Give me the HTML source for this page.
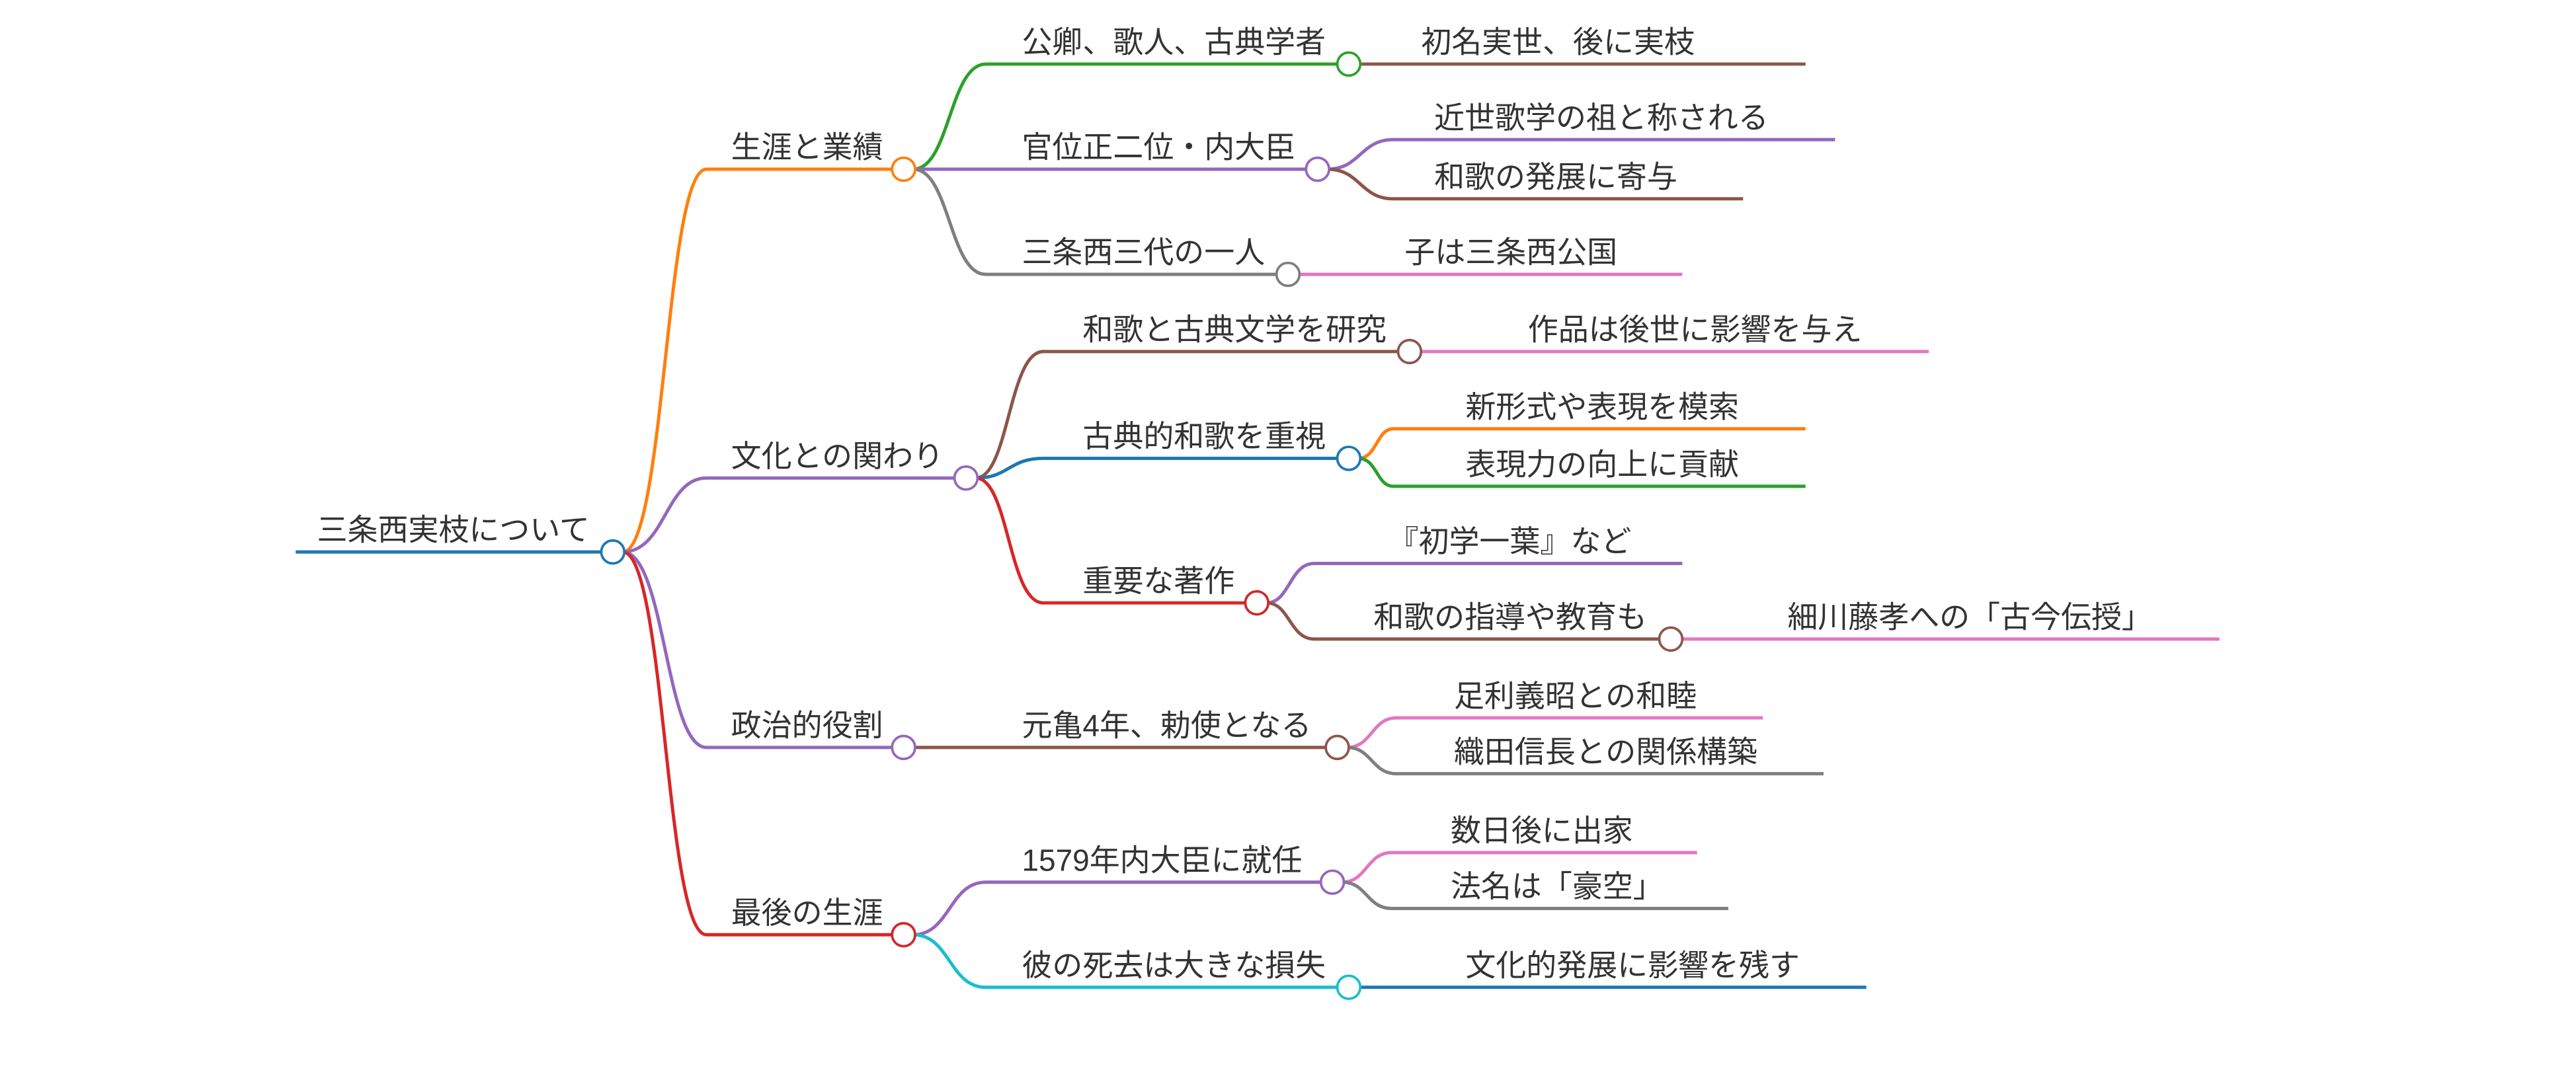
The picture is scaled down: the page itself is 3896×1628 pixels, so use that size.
<!DOCTYPE html>
<html><head><meta charset="utf-8"><style>
html,body{margin:0;padding:0;background:#fff;width:3896px;height:1628px;overflow:hidden}
svg{display:block}
text{font-family:"Liberation Sans","Noto Sans CJK JP",sans-serif;font-size:18.5px;fill:#333}
path{fill:none;stroke-width:2}
circle{fill:#fff;stroke-width:1.5}
</style></head><body>
<svg width="3896" height="1628" viewBox="0 0 1568 655" preserveAspectRatio="none">
<path d="M180 336 H366" stroke="#1f77b4"/>
<path d="M379 336 C405 336 405 103 430 103 H543" stroke="#ff7f0e"/>
<path d="M379 336 C405 336 405 291 430 291 H581" stroke="#9467bd"/>
<path d="M379 336 C405 336 405 455 430 455 H543" stroke="#9467bd"/>
<path d="M379 336 C405 336 405 569 430 569 H543" stroke="#d62728"/>

<path d="M556 103 C578 103 578 39 600 39 H814" stroke="#2ca02c"/>
<path d="M556 103 H795" stroke="#9467bd"/>
<path d="M556 103 C578 103 578 167 600 167 H777" stroke="#7f7f7f"/>

<path d="M594 291 C614 291 614 214 635 214 H851" stroke="#8c564b"/>
<path d="M594 291 C614 291 614 279 635 279 H814" stroke="#1f77b4"/>
<path d="M594 291 C614 291 614 367 635 367 H758" stroke="#d62728"/>

<path d="M556 455 H807" stroke="#8c564b"/>
<path d="M556 569 C578 569 578 537 600 537 H804" stroke="#9467bd"/>
<path d="M556 569 C578 569 578 601 600 601 H814" stroke="#17becf"/>

<path d="M828 39 H1099" stroke="#8c564b"/>
<path d="M808 103 C828 103 828 85 848 85 H1117" stroke="#9467bd"/>
<path d="M808 103 C828 103 828 121 848 121 H1061" stroke="#8c564b"/>
<path d="M791 167 H1024" stroke="#e377c2"/>

<path d="M865 214 H1174" stroke="#e377c2"/>
<path d="M827 279 C838 279 838 261 848 261 H1099" stroke="#ff7f0e"/>
<path d="M827 279 C838 279 838 296 848 296 H1099" stroke="#2ca02c"/>
<path d="M771 367 C785 367 785 343 800 343 H1024" stroke="#9467bd"/>
<path d="M771 367 C785 367 785 389 800 389 H1010" stroke="#8c564b"/>
<path d="M1024 389 H1351" stroke="#e377c2"/>

<path d="M820 455 C835 455 835 437 850 437 H1073" stroke="#e377c2"/>
<path d="M820 455 C835 455 835 471 850 471 H1110" stroke="#7f7f7f"/>
<path d="M817 537 C832 537 832 519 847 519 H1033" stroke="#e377c2"/>
<path d="M817 537 C832 537 832 553 847 553 H1052" stroke="#7f7f7f"/>
<path d="M828 601 H1136" stroke="#1f77b4"/>

<circle cx="373" cy="336" r="7" stroke="#1f77b4"/>
<circle cx="550" cy="103" r="7" stroke="#ff7f0e"/>
<circle cx="588" cy="291" r="7" stroke="#9467bd"/>
<circle cx="550" cy="455" r="7" stroke="#9467bd"/>
<circle cx="550" cy="569" r="7" stroke="#d62728"/>
<circle cx="821" cy="39" r="7" stroke="#2ca02c"/>
<circle cx="802" cy="103" r="7" stroke="#9467bd"/>
<circle cx="784" cy="167" r="7" stroke="#7f7f7f"/>
<circle cx="858" cy="214" r="7" stroke="#8c564b"/>
<circle cx="821" cy="279" r="7" stroke="#1f77b4"/>
<circle cx="765" cy="367" r="7" stroke="#d62728"/>
<circle cx="1017" cy="389" r="7" stroke="#8c564b"/>
<circle cx="814" cy="455" r="7" stroke="#8c564b"/>
<circle cx="811" cy="537" r="7" stroke="#9467bd"/>
<circle cx="821" cy="601" r="7" stroke="#17becf"/>

<text x="193" y="329">三条西実枝について</text>
<text x="445" y="96">生涯と業績</text>
<text x="445" y="284">文化との関わり</text>
<text x="445" y="448">政治的役割</text>
<text x="445" y="562">最後の生涯</text>

<text x="622" y="32">公卿、歌人、古典学者</text>
<text x="622" y="96">官位正二位・内大臣</text>
<text x="622" y="160">三条西三代の一人</text>
<text x="659" y="207">和歌と古典文学を研究</text>
<text x="659" y="272">古典的和歌を重視</text>
<text x="659" y="360">重要な著作</text>
<text x="622" y="448">元亀4年、勅使となる</text>
<text x="622" y="530">1579年内大臣に就任</text>
<text x="622" y="594">彼の死去は大きな損失</text>

<text x="865" y="32">初名実世、後に実枝</text>
<text x="873" y="78">近世歌学の祖と称される</text>
<text x="873" y="114">和歌の発展に寄与</text>
<text x="855" y="160">子は三条西公国</text>
<text x="930" y="207">作品は後世に影響を与え</text>
<text x="892" y="254">新形式や表現を模索</text>
<text x="892" y="289">表現力の向上に貢献</text>
<text x="845" y="336">『初学一葉』など</text>
<text x="836" y="382">和歌の指導や教育も</text>
<text x="1088" y="382">細川藤孝への「古今伝授」</text>
<text x="885" y="430">足利義昭との和睦</text>
<text x="885" y="464">織田信長との関係構築</text>
<text x="883" y="512">数日後に出家</text>
<text x="883" y="546">法名は「豪空」</text>
<text x="892" y="594">文化的発展に影響を残す</text>
</svg>
</body></html>
